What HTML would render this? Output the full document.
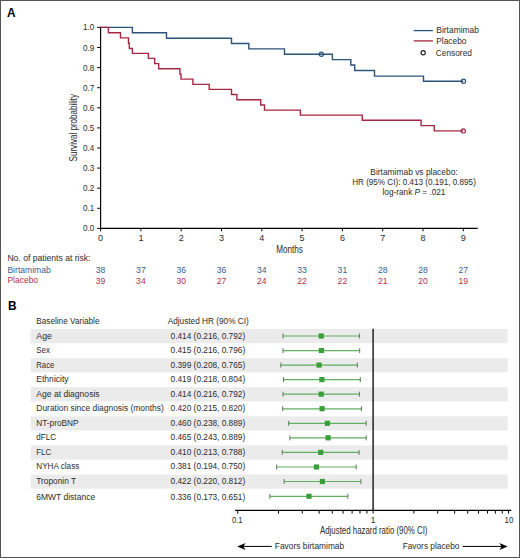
<!DOCTYPE html>
<html><head><meta charset="utf-8"><style>
html,body{margin:0;padding:0;background:#fff;}
svg{display:block;font-family:"Liberation Sans",sans-serif;}
</style></head><body>
<svg width="520" height="558" viewBox="0 0 520 558">
<rect width="520" height="558" fill="#fff"/>
<rect x="0.5" y="0.5" width="519" height="557" fill="none" stroke="#555" stroke-width="1"/>
<text x="7.1" y="17.0" font-size="11.9" fill="#000" font-weight="bold">A</text>
<text x="7.9" y="310.0" font-size="11.9" fill="#000" font-weight="bold">B</text>
<path d="M100.6,26.8V228.4H477.7" fill="none" stroke="#000" stroke-width="1.15"/>
<path d="M97.2,228.4H100.6" stroke="#000" stroke-width="1"/>
<text x="94.4" y="231.4" font-size="8.8" fill="#2b2b2b" text-anchor="end" textLength="11.3" lengthAdjust="spacingAndGlyphs">0.0</text>
<path d="M97.2,208.3H100.6" stroke="#000" stroke-width="1"/>
<text x="94.4" y="211.3" font-size="8.8" fill="#2b2b2b" text-anchor="end" textLength="11.3" lengthAdjust="spacingAndGlyphs">0.1</text>
<path d="M97.2,188.2H100.6" stroke="#000" stroke-width="1"/>
<text x="94.4" y="191.2" font-size="8.8" fill="#2b2b2b" text-anchor="end" textLength="11.3" lengthAdjust="spacingAndGlyphs">0.2</text>
<path d="M97.2,168.1H100.6" stroke="#000" stroke-width="1"/>
<text x="94.4" y="171.1" font-size="8.8" fill="#2b2b2b" text-anchor="end" textLength="11.3" lengthAdjust="spacingAndGlyphs">0.3</text>
<path d="M97.2,148.0H100.6" stroke="#000" stroke-width="1"/>
<text x="94.4" y="151.0" font-size="8.8" fill="#2b2b2b" text-anchor="end" textLength="11.3" lengthAdjust="spacingAndGlyphs">0.4</text>
<path d="M97.2,127.9H100.6" stroke="#000" stroke-width="1"/>
<text x="94.4" y="130.9" font-size="8.8" fill="#2b2b2b" text-anchor="end" textLength="11.3" lengthAdjust="spacingAndGlyphs">0.5</text>
<path d="M97.2,107.8H100.6" stroke="#000" stroke-width="1"/>
<text x="94.4" y="110.8" font-size="8.8" fill="#2b2b2b" text-anchor="end" textLength="11.3" lengthAdjust="spacingAndGlyphs">0.6</text>
<path d="M97.2,87.7H100.6" stroke="#000" stroke-width="1"/>
<text x="94.4" y="90.7" font-size="8.8" fill="#2b2b2b" text-anchor="end" textLength="11.3" lengthAdjust="spacingAndGlyphs">0.7</text>
<path d="M97.2,67.6H100.6" stroke="#000" stroke-width="1"/>
<text x="94.4" y="70.6" font-size="8.8" fill="#2b2b2b" text-anchor="end" textLength="11.3" lengthAdjust="spacingAndGlyphs">0.8</text>
<path d="M97.2,47.5H100.6" stroke="#000" stroke-width="1"/>
<text x="94.4" y="50.5" font-size="8.8" fill="#2b2b2b" text-anchor="end" textLength="11.3" lengthAdjust="spacingAndGlyphs">0.9</text>
<path d="M97.2,27.4H100.6" stroke="#000" stroke-width="1"/>
<text x="94.4" y="30.4" font-size="8.8" fill="#2b2b2b" text-anchor="end" textLength="11.3" lengthAdjust="spacingAndGlyphs">1.0</text>
<path d="M100.6,228.4V231.3" stroke="#000" stroke-width="1"/>
<text x="100.6" y="240.7" font-size="9" fill="#2b2b2b" text-anchor="middle">0</text>
<path d="M140.9,228.4V231.3" stroke="#000" stroke-width="1"/>
<text x="140.9" y="240.7" font-size="9" fill="#2b2b2b" text-anchor="middle">1</text>
<path d="M181.2,228.4V231.3" stroke="#000" stroke-width="1"/>
<text x="181.2" y="240.7" font-size="9" fill="#2b2b2b" text-anchor="middle">2</text>
<path d="M221.5,228.4V231.3" stroke="#000" stroke-width="1"/>
<text x="221.5" y="240.7" font-size="9" fill="#2b2b2b" text-anchor="middle">3</text>
<path d="M261.8,228.4V231.3" stroke="#000" stroke-width="1"/>
<text x="261.8" y="240.7" font-size="9" fill="#2b2b2b" text-anchor="middle">4</text>
<path d="M302.1,228.4V231.3" stroke="#000" stroke-width="1"/>
<text x="302.1" y="240.7" font-size="9" fill="#2b2b2b" text-anchor="middle">5</text>
<path d="M342.4,228.4V231.3" stroke="#000" stroke-width="1"/>
<text x="342.4" y="240.7" font-size="9" fill="#2b2b2b" text-anchor="middle">6</text>
<path d="M382.7,228.4V231.3" stroke="#000" stroke-width="1"/>
<text x="382.7" y="240.7" font-size="9" fill="#2b2b2b" text-anchor="middle">7</text>
<path d="M423.0,228.4V231.3" stroke="#000" stroke-width="1"/>
<text x="423.0" y="240.7" font-size="9" fill="#2b2b2b" text-anchor="middle">8</text>
<path d="M463.3,228.4V231.3" stroke="#000" stroke-width="1"/>
<text x="463.3" y="240.7" font-size="9" fill="#2b2b2b" text-anchor="middle">9</text>
<text x="276.2" y="252.8" font-size="10.2" fill="#2b2b2b" textLength="26.6" lengthAdjust="spacingAndGlyphs">Months</text>
<text transform="translate(77.3,161.4) rotate(-90)" font-size="10.3" fill="#2b2b2b" textLength="67.5" lengthAdjust="spacingAndGlyphs">Survival probability</text>
<path d="M100.6,27.4H132.4V32.8H166.5V38.2H231.5V43.5H248.8V48.9H284.5V54.3H332.4V59.6H350.8V65H354.7V70.5H374.5V76.1H423.5V81.3H463.3" fill="none" stroke="#2d5379" stroke-width="1.4"/>
<path d="M100.6,27.4H108.4V32.7H120.5V37.9H128.5V43.3H129.3V48.5H132.4V53.4H148.4V58.4H154.7V63.6H158.7V68.7H179.9V74.0H181.0V79.1H192.9V84.4H209.2V89.4H231.5V94.5H236.9V99.7H260.7V105H264.5V110.1H300.4V115.1H362.3V120.3H421.1V125.6H434.2V130.9H463.1" fill="none" stroke="#a62743" stroke-width="1.4"/>
<circle cx="321.4" cy="54.3" r="2.1" fill="none" stroke="#2d5379" stroke-width="1.2"/>
<circle cx="463.5" cy="81.3" r="2.1" fill="none" stroke="#2d5379" stroke-width="1.2"/>
<circle cx="463.3" cy="130.9" r="2.1" fill="none" stroke="#a62743" stroke-width="1.2"/>
<path d="M413.7,30.6H432.9" stroke="#2d5379" stroke-width="1.3"/>
<path d="M413.7,40.9H432.9" stroke="#a62743" stroke-width="1.3"/>
<circle cx="423.2" cy="52.8" r="2.1" fill="none" stroke="#222" stroke-width="1.2"/>
<text x="436.3" y="33.3" font-size="9.3" fill="#2b2b2b" textLength="42.7" lengthAdjust="spacingAndGlyphs">Birtamimab</text>
<text x="436.3" y="44.4" font-size="9.3" fill="#2b2b2b" textLength="30.2" lengthAdjust="spacingAndGlyphs">Placebo</text>
<text x="435.8" y="55.8" font-size="9.3" fill="#2b2b2b" textLength="36.1" lengthAdjust="spacingAndGlyphs">Censored</text>
<text x="414" y="174.8" font-size="8.4" fill="#2b2b2b" text-anchor="middle" textLength="87.3" lengthAdjust="spacingAndGlyphs">Birtamimab vs placebo:</text>
<text x="414" y="184.8" font-size="8.4" fill="#2b2b2b" text-anchor="middle" textLength="123.7" lengthAdjust="spacingAndGlyphs">HR (95% CI): 0.413 (0.191, 0.895)</text>
<text x="414" y="194.6" font-size="8.4" fill="#2b2b2b" text-anchor="middle" textLength="62.9" lengthAdjust="spacingAndGlyphs">log-rank <tspan font-style="italic">P</tspan> = .021</text>
<text x="7.4" y="260.9" font-size="8.8" fill="#2b2b2b" textLength="83.1" lengthAdjust="spacingAndGlyphs">No. of patients at risk:</text>
<text x="7.4" y="272.7" font-size="8.8" fill="#37608c" textLength="43.4" lengthAdjust="spacingAndGlyphs">Birtamimab</text>
<text x="7.4" y="283.3" font-size="8.8" fill="#b3304a" textLength="30.7" lengthAdjust="spacingAndGlyphs">Placebo</text>
<text x="100.6" y="273.2" font-size="8.6" fill="#37608c" text-anchor="middle">38</text>
<text x="100.6" y="283.8" font-size="8.6" fill="#b3304a" text-anchor="middle">39</text>
<text x="140.9" y="273.2" font-size="8.6" fill="#37608c" text-anchor="middle">37</text>
<text x="140.9" y="283.8" font-size="8.6" fill="#b3304a" text-anchor="middle">34</text>
<text x="181.2" y="273.2" font-size="8.6" fill="#37608c" text-anchor="middle">36</text>
<text x="181.2" y="283.8" font-size="8.6" fill="#b3304a" text-anchor="middle">30</text>
<text x="221.5" y="273.2" font-size="8.6" fill="#37608c" text-anchor="middle">36</text>
<text x="221.5" y="283.8" font-size="8.6" fill="#b3304a" text-anchor="middle">27</text>
<text x="261.8" y="273.2" font-size="8.6" fill="#37608c" text-anchor="middle">34</text>
<text x="261.8" y="283.8" font-size="8.6" fill="#b3304a" text-anchor="middle">24</text>
<text x="302.1" y="273.2" font-size="8.6" fill="#37608c" text-anchor="middle">33</text>
<text x="302.1" y="283.8" font-size="8.6" fill="#b3304a" text-anchor="middle">22</text>
<text x="342.4" y="273.2" font-size="8.6" fill="#37608c" text-anchor="middle">31</text>
<text x="342.4" y="283.8" font-size="8.6" fill="#b3304a" text-anchor="middle">22</text>
<text x="382.7" y="273.2" font-size="8.6" fill="#37608c" text-anchor="middle">28</text>
<text x="382.7" y="283.8" font-size="8.6" fill="#b3304a" text-anchor="middle">21</text>
<text x="423.0" y="273.2" font-size="8.6" fill="#37608c" text-anchor="middle">28</text>
<text x="423.0" y="283.8" font-size="8.6" fill="#b3304a" text-anchor="middle">20</text>
<text x="463.3" y="273.2" font-size="8.6" fill="#37608c" text-anchor="middle">27</text>
<text x="463.3" y="283.8" font-size="8.6" fill="#b3304a" text-anchor="middle">19</text>
<rect x="30.7" y="329.0" width="477" height="14.2" fill="#ebebeb"/>
<rect x="30.7" y="358.1" width="477" height="14.2" fill="#ebebeb"/>
<rect x="30.7" y="387.2" width="477" height="14.2" fill="#ebebeb"/>
<rect x="30.7" y="416.3" width="477" height="14.2" fill="#ebebeb"/>
<rect x="30.7" y="445.4" width="477" height="14.2" fill="#ebebeb"/>
<rect x="30.7" y="474.5" width="477" height="14.2" fill="#ebebeb"/>
<text x="36.3" y="323.7" font-size="8.5" fill="#2b2b2b" textLength="63.2" lengthAdjust="spacingAndGlyphs">Baseline Variable</text>
<text x="167.7" y="323.8" font-size="8.4" fill="#2b2b2b" textLength="81.1" lengthAdjust="spacingAndGlyphs">Adjusted HR (90% CI)</text>
<text x="36.3" y="338.5" font-size="8.5" fill="#2b2b2b" textLength="15.6" lengthAdjust="spacingAndGlyphs">Age</text>
<text x="170.6" y="338.5" font-size="8.7" fill="#2b2b2b" textLength="74.6" lengthAdjust="spacingAndGlyphs">0.414 (0.216, 0.792)</text>
<path d="M283.0,336.0H359.4" stroke="#62ae62" stroke-width="1.2" fill="none"/>
<path d="M283.0,333.5V338.5M359.4,333.5V338.5" stroke="#5b7a5b" stroke-width="1" fill="none"/>
<rect x="318.6" y="333.4" width="5.2" height="5.2" fill="#3a9f3a"/>
<text x="36.3" y="353.0" font-size="8.5" fill="#2b2b2b" textLength="13.6" lengthAdjust="spacingAndGlyphs">Sex</text>
<text x="170.6" y="353.0" font-size="8.7" fill="#2b2b2b" textLength="74.6" lengthAdjust="spacingAndGlyphs">0.415 (0.216, 0.796)</text>
<path d="M283.0,350.6H359.7" stroke="#62ae62" stroke-width="1.2" fill="none"/>
<path d="M283.0,348.1V353.1M359.7,348.1V353.1" stroke="#5b7a5b" stroke-width="1" fill="none"/>
<rect x="318.8" y="347.9" width="5.2" height="5.2" fill="#3a9f3a"/>
<text x="36.3" y="367.5" font-size="8.5" fill="#2b2b2b" textLength="18.0" lengthAdjust="spacingAndGlyphs">Race</text>
<text x="170.6" y="367.5" font-size="8.7" fill="#2b2b2b" textLength="74.6" lengthAdjust="spacingAndGlyphs">0.399 (0.208, 0.765)</text>
<path d="M280.8,365.1H357.3" stroke="#62ae62" stroke-width="1.2" fill="none"/>
<path d="M280.8,362.6V367.6M357.3,362.6V367.6" stroke="#5b7a5b" stroke-width="1" fill="none"/>
<rect x="316.5" y="362.5" width="5.2" height="5.2" fill="#3a9f3a"/>
<text x="36.3" y="382.0" font-size="8.5" fill="#2b2b2b" textLength="32.3" lengthAdjust="spacingAndGlyphs">Ethnicity</text>
<text x="170.6" y="382.0" font-size="8.7" fill="#2b2b2b" textLength="74.6" lengthAdjust="spacingAndGlyphs">0.419 (0.218, 0.804)</text>
<path d="M283.5,379.6H360.3" stroke="#62ae62" stroke-width="1.2" fill="none"/>
<path d="M283.5,377.1V382.1M360.3,377.1V382.1" stroke="#5b7a5b" stroke-width="1" fill="none"/>
<rect x="319.3" y="377.0" width="5.2" height="5.2" fill="#3a9f3a"/>
<text x="36.3" y="396.5" font-size="8.5" fill="#2b2b2b" textLength="63.3" lengthAdjust="spacingAndGlyphs">Age at diagnosis</text>
<text x="170.6" y="396.5" font-size="8.7" fill="#2b2b2b" textLength="74.6" lengthAdjust="spacingAndGlyphs">0.414 (0.216, 0.792)</text>
<path d="M283.0,394.2H359.4" stroke="#62ae62" stroke-width="1.2" fill="none"/>
<path d="M283.0,391.7V396.7M359.4,391.7V396.7" stroke="#5b7a5b" stroke-width="1" fill="none"/>
<rect x="318.6" y="391.6" width="5.2" height="5.2" fill="#3a9f3a"/>
<text x="36.3" y="411.0" font-size="8.5" fill="#2b2b2b" textLength="127.5" lengthAdjust="spacingAndGlyphs">Duration since diagnosis (months)</text>
<text x="170.6" y="411.0" font-size="8.7" fill="#2b2b2b" textLength="74.6" lengthAdjust="spacingAndGlyphs">0.420 (0.215, 0.820)</text>
<path d="M282.7,408.8H361.4" stroke="#62ae62" stroke-width="1.2" fill="none"/>
<path d="M282.7,406.2V411.2M361.4,406.2V411.2" stroke="#5b7a5b" stroke-width="1" fill="none"/>
<rect x="319.5" y="406.1" width="5.2" height="5.2" fill="#3a9f3a"/>
<text x="36.3" y="425.5" font-size="8.5" fill="#2b2b2b" textLength="42.2" lengthAdjust="spacingAndGlyphs">NT-proBNP</text>
<text x="170.6" y="425.5" font-size="8.7" fill="#2b2b2b" textLength="74.6" lengthAdjust="spacingAndGlyphs">0.460 (0.238, 0.889)</text>
<path d="M288.7,423.3H366.2" stroke="#62ae62" stroke-width="1.2" fill="none"/>
<path d="M288.7,420.8V425.8M366.2,420.8V425.8" stroke="#5b7a5b" stroke-width="1" fill="none"/>
<rect x="324.8" y="420.7" width="5.2" height="5.2" fill="#3a9f3a"/>
<text x="36.3" y="440.0" font-size="8.5" fill="#2b2b2b" textLength="19.8" lengthAdjust="spacingAndGlyphs">dFLC</text>
<text x="170.6" y="440.0" font-size="8.7" fill="#2b2b2b" textLength="74.6" lengthAdjust="spacingAndGlyphs">0.465 (0.243, 0.889)</text>
<path d="M289.9,437.9H366.2" stroke="#62ae62" stroke-width="1.2" fill="none"/>
<path d="M289.9,435.4V440.4M366.2,435.4V440.4" stroke="#5b7a5b" stroke-width="1" fill="none"/>
<rect x="325.5" y="435.2" width="5.2" height="5.2" fill="#3a9f3a"/>
<text x="36.3" y="454.5" font-size="8.5" fill="#2b2b2b" textLength="14.8" lengthAdjust="spacingAndGlyphs">FLC</text>
<text x="170.6" y="454.5" font-size="8.7" fill="#2b2b2b" textLength="74.6" lengthAdjust="spacingAndGlyphs">0.410 (0.213, 0.788)</text>
<path d="M282.2,452.4H359.1" stroke="#62ae62" stroke-width="1.2" fill="none"/>
<path d="M282.2,449.9V454.9M359.1,449.9V454.9" stroke="#5b7a5b" stroke-width="1" fill="none"/>
<rect x="318.1" y="449.8" width="5.2" height="5.2" fill="#3a9f3a"/>
<text x="36.3" y="469.0" font-size="8.5" fill="#2b2b2b" textLength="43.0" lengthAdjust="spacingAndGlyphs">NYHA class</text>
<text x="170.6" y="469.0" font-size="8.7" fill="#2b2b2b" textLength="74.6" lengthAdjust="spacingAndGlyphs">0.381 (0.194, 0.750)</text>
<path d="M276.7,467.0H356.2" stroke="#62ae62" stroke-width="1.2" fill="none"/>
<path d="M276.7,464.5V469.5M356.2,464.5V469.5" stroke="#5b7a5b" stroke-width="1" fill="none"/>
<rect x="313.8" y="464.4" width="5.2" height="5.2" fill="#3a9f3a"/>
<text x="36.3" y="483.5" font-size="8.5" fill="#2b2b2b" textLength="39.8" lengthAdjust="spacingAndGlyphs">Troponin T</text>
<text x="170.6" y="483.5" font-size="8.7" fill="#2b2b2b" textLength="74.6" lengthAdjust="spacingAndGlyphs">0.422 (0.220, 0.812)</text>
<path d="M284.1,481.5H360.9" stroke="#62ae62" stroke-width="1.2" fill="none"/>
<path d="M284.1,479.0V484.0M360.9,479.0V484.0" stroke="#5b7a5b" stroke-width="1" fill="none"/>
<rect x="319.8" y="478.9" width="5.2" height="5.2" fill="#3a9f3a"/>
<text x="36.3" y="499.8" font-size="8.5" fill="#2b2b2b" textLength="58.8" lengthAdjust="spacingAndGlyphs">6MWT distance</text>
<text x="170.6" y="499.8" font-size="8.7" fill="#2b2b2b" textLength="74.6" lengthAdjust="spacingAndGlyphs">0.336 (0.173, 0.651)</text>
<path d="M269.9,496.3H347.9" stroke="#62ae62" stroke-width="1.2" fill="none"/>
<path d="M269.9,493.8V498.8M347.9,493.8V498.8" stroke="#5b7a5b" stroke-width="1" fill="none"/>
<rect x="306.4" y="493.7" width="5.2" height="5.2" fill="#3a9f3a"/>
<path d="M373.1,328.7V510.4" stroke="#222" stroke-width="1.5"/>
<path d="M235,510.4H511.3" stroke="#000" stroke-width="1.1"/>
<path d="M237.7,510.4V513.6" stroke="#000" stroke-width="1"/>
<path d="M278.5,510.4V513.6" stroke="#000" stroke-width="1"/>
<path d="M302.3,510.4V513.6" stroke="#000" stroke-width="1"/>
<path d="M319.2,510.4V513.6" stroke="#000" stroke-width="1"/>
<path d="M332.3,510.4V513.6" stroke="#000" stroke-width="1"/>
<path d="M343.1,510.4V513.6" stroke="#000" stroke-width="1"/>
<path d="M352.1,510.4V513.6" stroke="#000" stroke-width="1"/>
<path d="M360.0,510.4V513.6" stroke="#000" stroke-width="1"/>
<path d="M366.9,510.4V513.6" stroke="#000" stroke-width="1"/>
<path d="M373.1,510.4V513.6" stroke="#000" stroke-width="1"/>
<path d="M413.9,510.4V513.6" stroke="#000" stroke-width="1"/>
<path d="M437.7,510.4V513.6" stroke="#000" stroke-width="1"/>
<path d="M454.6,510.4V513.6" stroke="#000" stroke-width="1"/>
<path d="M467.7,510.4V513.6" stroke="#000" stroke-width="1"/>
<path d="M478.5,510.4V513.6" stroke="#000" stroke-width="1"/>
<path d="M487.5,510.4V513.6" stroke="#000" stroke-width="1"/>
<path d="M495.4,510.4V513.6" stroke="#000" stroke-width="1"/>
<path d="M502.3,510.4V513.6" stroke="#000" stroke-width="1"/>
<path d="M508.5,510.4V513.6" stroke="#000" stroke-width="1"/>
<text x="237.3" y="522.6" font-size="8.4" fill="#2b2b2b" text-anchor="middle" textLength="10.6" lengthAdjust="spacingAndGlyphs">0.1</text>
<text x="373.1" y="522.7" font-size="8.4" fill="#2b2b2b" text-anchor="middle">1</text>
<text x="513.4" y="522.6" font-size="8.4" fill="#2b2b2b" text-anchor="end" textLength="8.9" lengthAdjust="spacingAndGlyphs">10</text>
<text x="320" y="534.4" font-size="10.2" fill="#2b2b2b" textLength="107.5" lengthAdjust="spacingAndGlyphs">Adjusted hazard ratio (90% CI)</text>
<path d="M243,546.4H271.8" stroke="#000" stroke-width="1"/>
<path d="M237.2,546.4L245.6,542.9L243.3,546.4L245.6,549.9Z" fill="#000"/>
<path d="M462.7,546.4H502" stroke="#000" stroke-width="1"/>
<path d="M507.7,546.4L499.3,542.9L501.6,546.4L499.3,549.9Z" fill="#000"/>
<text x="274.8" y="549.2" font-size="8.8" fill="#2b2b2b" textLength="69.4" lengthAdjust="spacingAndGlyphs">Favors birtamimab</text>
<text x="402.7" y="549.2" font-size="8.8" fill="#2b2b2b" textLength="56.7" lengthAdjust="spacingAndGlyphs">Favors placebo</text>
</svg>
</body></html>
